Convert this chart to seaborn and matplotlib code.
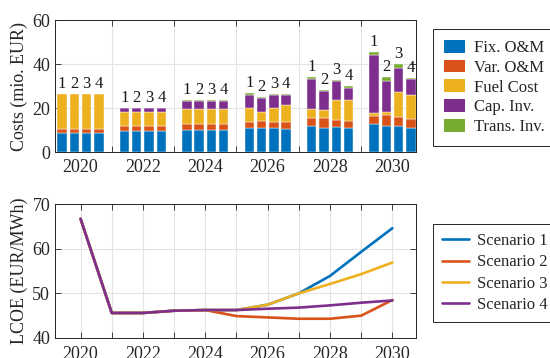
import numpy as np
import pandas as pd
import matplotlib
matplotlib.use("Agg")
import matplotlib.pyplot as plt
from matplotlib.patches import Patch
import seaborn as sns

# ---- cost breakdown (mio. EUR), one row per year, one column per scenario ----
years = [2020, 2022, 2024, 2026, 2028, 2030]
scenarios = ["1", "2", "3", "4"]

fix_om = [
    [8.7, 8.7, 8.7, 8.7],
    [9.7, 9.7, 9.7, 9.7],
    [10.2, 10.2, 10.2, 10.2],
    [10.8, 10.8, 10.8, 10.5],
    [11.9, 11.1, 11.4, 10.8],
    [12.9, 12.0, 12.0, 11.1],
]
var_om = [
    [1.6, 1.6, 1.6, 1.6],
    [2.1, 2.1, 2.1, 2.1],
    [2.6, 2.6, 2.6, 2.6],
    [2.9, 3.3, 2.9, 3.0],
    [3.6, 4.2, 3.4, 3.3],
    [3.5, 4.9, 4.0, 3.9],
]
fuel_cost = [
    [16.0, 16.0, 16.0, 16.0],
    [6.4, 6.4, 6.4, 6.4],
    [7.0, 7.0, 7.0, 7.0],
    [6.5, 4.3, 6.4, 7.9],
    [3.9, 4.0, 9.1, 9.8],
    [1.2, 1.2, 11.5, 11.0],
]
cap_inv = [
    [0.0, 0.0, 0.0, 0.0],
    [1.8, 1.8, 1.8, 1.8],
    [3.3, 3.3, 3.3, 3.3],
    [5.9, 6.4, 5.9, 4.4],
    [13.9, 8.4, 8.4, 5.4],
    [26.4, 14.3, 10.9, 7.1],
]
trans_inv = [
    [0.0, 0.0, 0.0, 0.0],
    [0.15, 0.15, 0.15, 0.15],
    [0.45, 0.45, 0.45, 0.45],
    [0.6, 0.4, 0.6, 0.5],
    [0.8, 0.6, 0.6, 0.6],
    [1.4, 1.7, 1.7, 0.6],
]
cost_labels = ["Fix. O&M", "Var. O&M", "Fuel Cost", "Cap. Inv.", "Trans. Inv."]
cost_colors = ["#0072BD", "#D95319", "#EDB120", "#7E2F8E", "#77AC30"]

# ---- levelized cost of electricity (EUR/MWh) ----
lcoe_years = list(range(2020, 2031))
lcoe_s1 = [66.7, 45.6, 45.6, 46.1, 46.25, 46.25, 47.45, 50.0, 53.9, 59.3, 64.6]
lcoe_s2 = [66.7, 45.6, 45.6, 46.1, 46.25, 44.9, 44.6, 44.3, 44.3, 45.0, 48.5]
lcoe_s3 = [66.7, 45.6, 45.6, 46.1, 46.25, 46.25, 47.45, 50.0, 52.1, 54.3, 56.9]
lcoe_s4 = [66.7, 45.6, 45.6, 46.1, 46.25, 46.25, 46.55, 46.8, 47.3, 47.9, 48.4]
scenario_names = ["Scenario 1", "Scenario 2", "Scenario 3", "Scenario 4"]
line_colors = ["#0072BD", "#D95319", "#EDB120", "#7E2F8E"]

sns.set_theme(style="ticks")
plt.rcParams["font.family"] = ["Liberation Serif", "DejaVu Serif"]

FS = 13
fig = plt.figure(figsize=(5.5, 3.58), dpi=100)
ax1 = fig.add_axes([0.1, 0.575, 0.656, 0.369])
ax2 = fig.add_axes([0.1, 0.056, 0.656, 0.374])

xlim = (2019.18, 2030.75)
pitch = 0.395
bar_w = 0.30
offsets = (np.arange(4) - 1.5) * pitch

# stacked cost bars
components = [fix_om, var_om, fuel_cost, cap_inv, trans_inv]
for gi, yr in enumerate(years):
    for si in range(4):
        x = yr + offsets[si]
        bottom = 0.0
        for comp, col in zip(components, cost_colors):
            v = comp[gi][si]
            if v > 0:
                ax1.bar(x, v, width=bar_w, bottom=bottom, color=col,
                        edgecolor="white", linewidth=0.3, zorder=3)
            bottom += v
        ax1.annotate(scenarios[si], (x, bottom), xytext=(0, 1.5),
                     textcoords="offset points", ha="center", va="bottom",
                     fontsize=FS - 1, color="#1a1a1a", zorder=4)

ax1.set_xlim(*xlim)
ax1.set_ylim(0, 60)
ax1.set_yticks([0, 20, 40, 60])
ax1.set_xticks([2021, 2023, 2025, 2027, 2029])
ax1.set_xticklabels([])
ax1.set_xticks(years, minor=True)
ax1.set_xticklabels([str(y) for y in years], minor=True)
ax1.grid(True, which="major", color="#e3e3e3", linewidth=0.8, zorder=0)
ax1.set_axisbelow(True)
ax1.set_ylabel("Costs (mio. EUR)", fontsize=FS, labelpad=3)

# LCOE lines
lcoe_df = pd.DataFrame({
    "year": lcoe_years * 4,
    "lcoe": lcoe_s1 + lcoe_s2 + lcoe_s3 + lcoe_s4,
    "scenario": sum([[n] * len(lcoe_years) for n in scenario_names], []),
})
sns.lineplot(data=lcoe_df, x="year", y="lcoe", hue="scenario",
             palette=line_colors, linewidth=1.9, ax=ax2, zorder=3)
ax2.set_xlim(*xlim)
ax2.set_ylim(40, 70)
ax2.set_yticks([40, 50, 60, 70])
ax2.set_xticks(lcoe_years)
ax2.set_xticklabels([str(y) if y % 2 == 0 else "" for y in lcoe_years])
ax2.grid(True, color="#e3e3e3", linewidth=0.8, zorder=0)
ax2.set_axisbelow(True)
ax2.set_xlabel("")
ax2.set_ylabel("LCOE (EUR/MWh)", fontsize=FS, labelpad=3)
ax2.get_legend().remove()

for ax in (ax1, ax2):
    ax.tick_params(which="both", direction="in", top=True, right=True,
                   labelsize=FS, color="#262626", labelcolor="#262626")
    ax.tick_params(which="major", length=4, width=0.6)
    for sp in ax.spines.values():
        sp.set_visible(True)
        sp.set_color("#262626")
        sp.set_linewidth(0.7)
ax1.tick_params(axis="x", which="minor", length=0, pad=5)
ax2.tick_params(axis="x", which="major", pad=6)

leg_kw = dict(loc="upper left", fontsize=FS - 1, frameon=True, fancybox=False,
              edgecolor="#262626", framealpha=1, handletextpad=0.5,
              borderaxespad=0)
h1 = [Patch(facecolor=c, edgecolor="none") for c in cost_colors]
lg1 = fig.legend(h1, cost_labels, bbox_to_anchor=(0.787, 0.919),
                 handlelength=1.3, handleheight=0.8, borderpad=0.65,
                 labelspacing=0.22, **leg_kw)
lg1.get_frame().set_linewidth(0.7)
h2 = [plt.Line2D([], [], color=c, linewidth=1.9) for c in line_colors]
lg2 = fig.legend(h2, scenario_names, bbox_to_anchor=(0.787, 0.374),
                 handlelength=1.6, borderpad=0.55, labelspacing=0.31,
                 **leg_kw)
lg2.get_frame().set_linewidth(0.7)

fig.savefig("out.png", dpi=100)
